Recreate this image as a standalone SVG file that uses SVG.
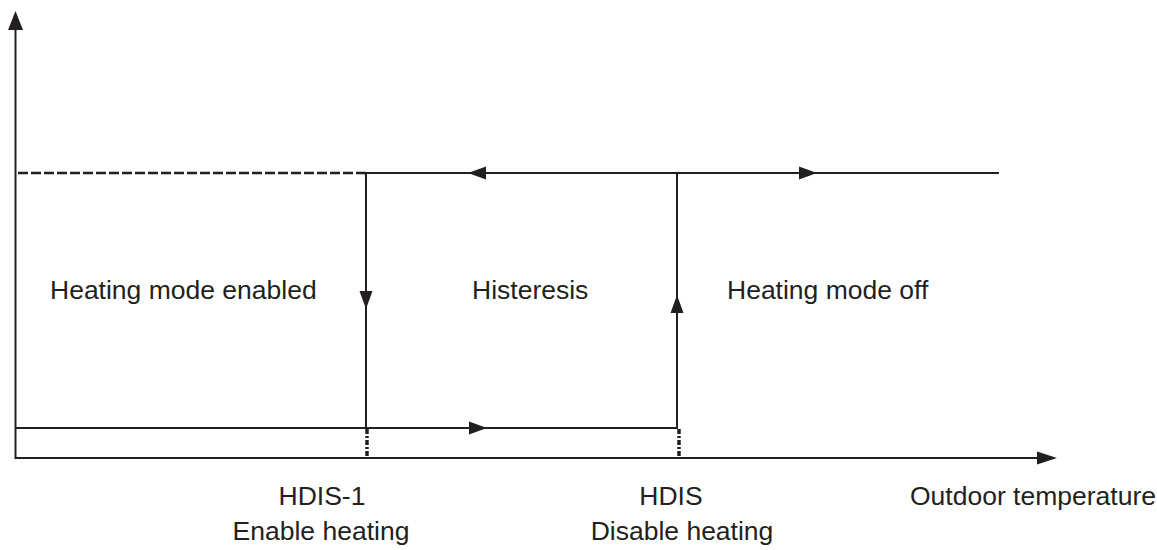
<svg xmlns="http://www.w3.org/2000/svg" width="1157" height="550" viewBox="0 0 1157 550">
<style>
.ln{stroke:#231f20;stroke-width:2;fill:none}
.dash{stroke:#231f20;stroke-width:2.5;fill:none;stroke-dasharray:10 3}
.dot{stroke:#231f20;stroke-width:3.5;fill:none;stroke-dasharray:5 2 2 2}
.ah{fill:#231f20;stroke:none}
text{font-family:"Liberation Sans",Arial,sans-serif;font-size:26.5px;fill:#231f20}
</style>
<rect width="1157" height="550" fill="#fff"/>
<g id="axes">
<line class="ln" x1="15.5" y1="459" x2="15.5" y2="28"/>
<polygon class="ah" points="15.5,11 8,30 23,30"/>
<line class="ln" x1="15" y1="458" x2="1040" y2="458"/>
<polygon class="ah" points="1057,458 1037,451.5 1037,464.5"/>
</g>
<g id="connectors">
<line class="dash" x1="18" y1="173" x2="366" y2="173"/>
<line class="ln" x1="366" y1="173" x2="999" y2="173"/>
<line class="ln" x1="366" y1="173" x2="366" y2="428"/>
<line class="ln" x1="677" y1="173" x2="677" y2="428"/>
<line class="ln" x1="15" y1="428" x2="678" y2="428"/>
<line class="dot" x1="367" y1="429" x2="367" y2="458"/>
<line class="dot" x1="679" y1="429" x2="679" y2="458"/>
<polygon class="ah" points="468,173 486,166.5 486,179.5"/>
<polygon class="ah" points="817,173 799,166.5 799,179.5"/>
<polygon class="ah" points="366,309 359.5,291 372.5,291"/>
<polygon class="ah" points="677,295 670.5,313 683.5,313"/>
<polygon class="ah" points="487,428 469,421.5 469,434.5"/>
</g>
<g id="label-enabled"><text x="50" y="299">Heating mode enabled</text></g>
<g id="label-histeresis"><text x="472" y="299">Histeresis</text></g>
<g id="label-off"><text x="727" y="299">Heating mode off</text></g>
<g id="label-hdis1" text-anchor="middle"><text x="322" y="505">HDIS-1</text><text x="321" y="540">Enable heating</text></g>
<g id="label-hdis" text-anchor="middle"><text x="671" y="505">HDIS</text><text x="682" y="540">Disable heating</text></g>
<g id="label-x"><text x="910" y="505">Outdoor temperature</text></g>
</svg>
